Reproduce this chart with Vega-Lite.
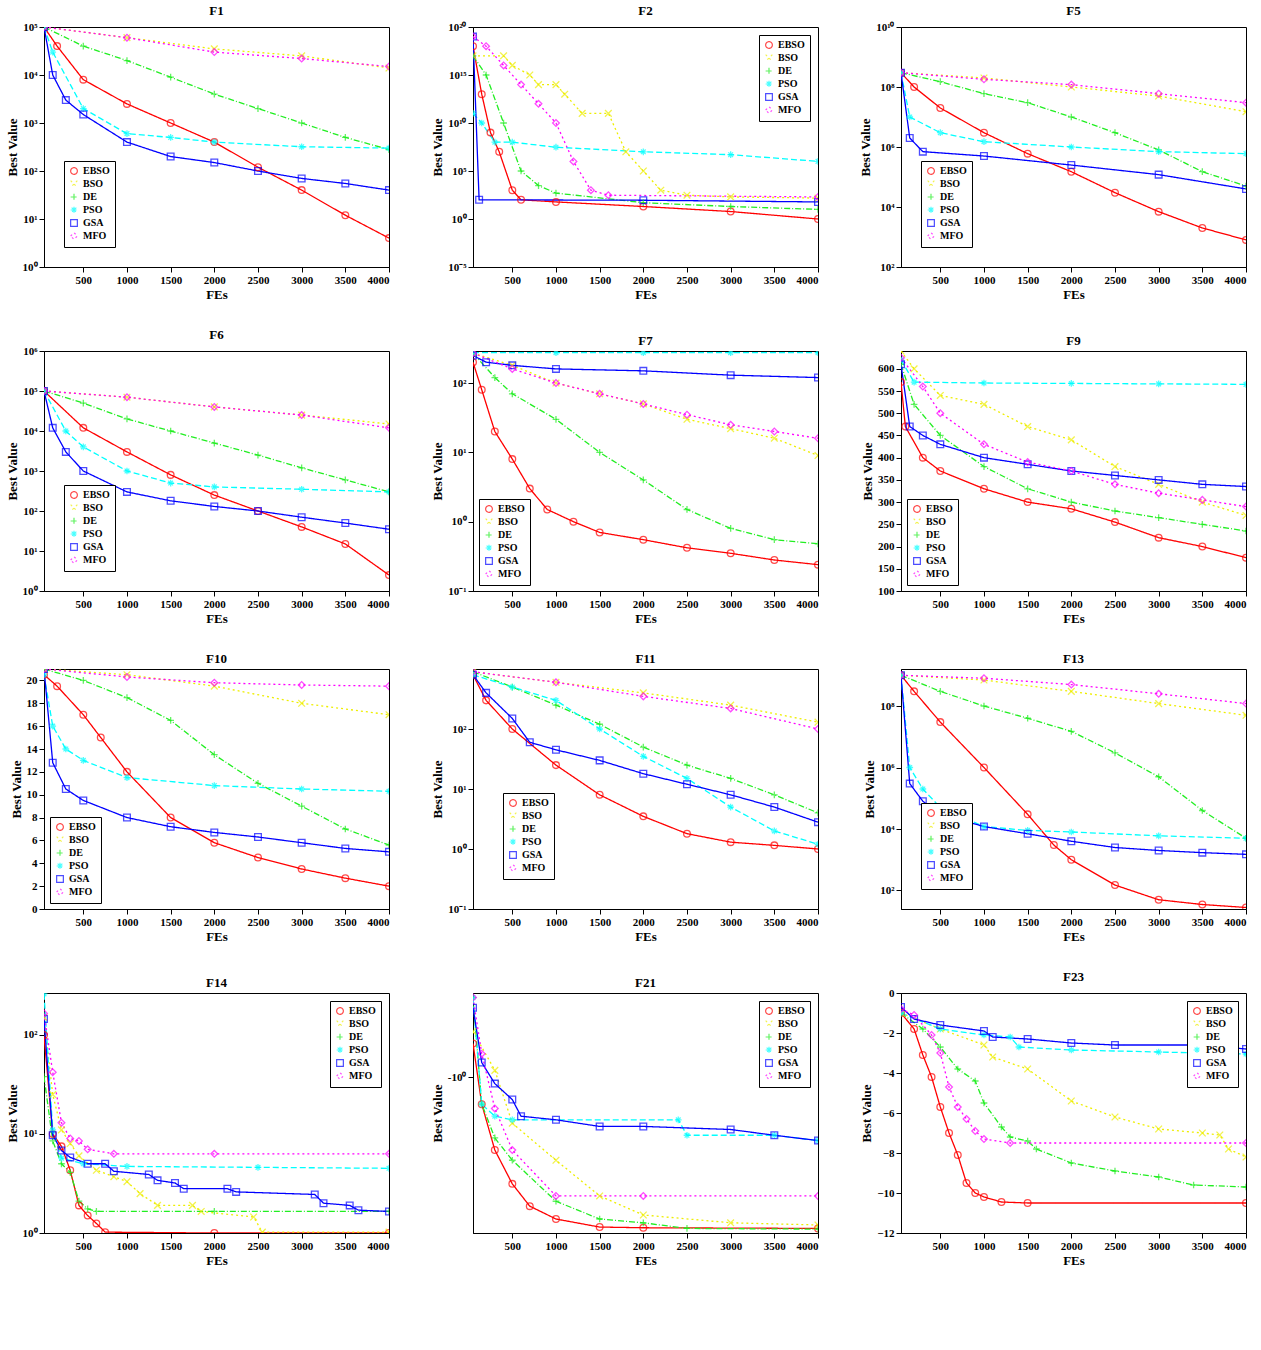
{
"$schema":"https://vega.github.io/schema/vega-lite/v6.json",
"background":"white",
"padding":{"left":5,"right":5,"top":4,"bottom":2},
"config":{"font":"Liberation Serif","view":{"stroke":"black","strokeWidth":1},
"title":{"font":"Liberation Serif","fontWeight":"bold","fontSize":13,"offset":3},
"axis":{"labelFont":"Liberation Serif","labelFontWeight":"bold","labelFontSize":11,"titleFont":"Liberation Serif","titleFontWeight":"bold","titleFontSize":13,"titlePadding":3,"grid":false,"domainColor":"black","tickColor":"black","labelColor":"black","titleColor":"black"},
"axisX":{"format":"d"},
"legend":{"labelFont":"Liberation Serif","labelFontWeight":"bold","labelFontSize":10,"fillColor":"white","strokeColor":"black","padding":5,"rowPadding":1,"symbolSize":45,"symbolStrokeWidth":1.2,"offset":6}},
"columns":3,"spacing":{"row":26,"column":40},
"resolve":{"scale":{"x":"independent","y":"independent","color":"independent","shape":"independent","strokeDash":"independent"},"legend":{"color":"independent","shape":"independent","strokeDash":"independent"}},
"data":{"values":[
{"p":"F1","s":"EBSO","x":50,"y":1e5},{"p":"F1","s":"EBSO","x":200,"y":4e4},{"p":"F1","s":"EBSO","x":500,"y":8e3},{"p":"F1","s":"EBSO","x":1000,"y":2.5e3},{"p":"F1","s":"EBSO","x":1500,"y":1e3},{"p":"F1","s":"EBSO","x":2000,"y":400},{"p":"F1","s":"EBSO","x":2500,"y":120},{"p":"F1","s":"EBSO","x":3000,"y":40},{"p":"F1","s":"EBSO","x":3500,"y":12},{"p":"F1","s":"EBSO","x":4000,"y":4},
{"p":"F1","s":"BSO","x":50,"y":1e5},{"p":"F1","s":"BSO","x":1000,"y":6e4},{"p":"F1","s":"BSO","x":2000,"y":3.5e4},{"p":"F1","s":"BSO","x":3000,"y":2.5e4},{"p":"F1","s":"BSO","x":4000,"y":1.4e4},
{"p":"F1","s":"DE","x":50,"y":1e5},{"p":"F1","s":"DE","x":500,"y":4e4},{"p":"F1","s":"DE","x":1000,"y":2e4},{"p":"F1","s":"DE","x":1500,"y":9e3},{"p":"F1","s":"DE","x":2000,"y":4e3},{"p":"F1","s":"DE","x":2500,"y":2e3},{"p":"F1","s":"DE","x":3000,"y":1e3},{"p":"F1","s":"DE","x":3500,"y":500},{"p":"F1","s":"DE","x":4000,"y":280},
{"p":"F1","s":"PSO","x":50,"y":1e5},{"p":"F1","s":"PSO","x":150,"y":3e4},{"p":"F1","s":"PSO","x":500,"y":2e3},{"p":"F1","s":"PSO","x":1000,"y":600},{"p":"F1","s":"PSO","x":1500,"y":500},{"p":"F1","s":"PSO","x":2000,"y":400},{"p":"F1","s":"PSO","x":3000,"y":320},{"p":"F1","s":"PSO","x":4000,"y":300},
{"p":"F1","s":"GSA","x":50,"y":1e5},{"p":"F1","s":"GSA","x":150,"y":1e4},{"p":"F1","s":"GSA","x":300,"y":3e3},{"p":"F1","s":"GSA","x":500,"y":1.5e3},{"p":"F1","s":"GSA","x":1000,"y":400},{"p":"F1","s":"GSA","x":1500,"y":200},{"p":"F1","s":"GSA","x":2000,"y":150},{"p":"F1","s":"GSA","x":2500,"y":100},{"p":"F1","s":"GSA","x":3000,"y":70},{"p":"F1","s":"GSA","x":3500,"y":55},{"p":"F1","s":"GSA","x":4000,"y":40},
{"p":"F1","s":"MFO","x":50,"y":1e5},{"p":"F1","s":"MFO","x":1000,"y":6e4},{"p":"F1","s":"MFO","x":2000,"y":3e4},{"p":"F1","s":"MFO","x":3000,"y":2.2e4},{"p":"F1","s":"MFO","x":4000,"y":1.5e4},

{"p":"F2","s":"EBSO","x":50,"y":1e18},{"p":"F2","s":"EBSO","x":150,"y":1e13},{"p":"F2","s":"EBSO","x":250,"y":1e9},{"p":"F2","s":"EBSO","x":350,"y":1e7},{"p":"F2","s":"EBSO","x":500,"y":1e3},{"p":"F2","s":"EBSO","x":600,"y":100},{"p":"F2","s":"EBSO","x":1000,"y":60},{"p":"F2","s":"EBSO","x":2000,"y":20},{"p":"F2","s":"EBSO","x":3000,"y":6},{"p":"F2","s":"EBSO","x":4000,"y":1},
{"p":"F2","s":"BSO","x":50,"y":1e17},{"p":"F2","s":"BSO","x":400,"y":1e17},{"p":"F2","s":"BSO","x":500,"y":1e16},{"p":"F2","s":"BSO","x":700,"y":1e15},{"p":"F2","s":"BSO","x":800,"y":1e14},{"p":"F2","s":"BSO","x":1000,"y":1e14},{"p":"F2","s":"BSO","x":1100,"y":1e13},{"p":"F2","s":"BSO","x":1300,"y":1e11},{"p":"F2","s":"BSO","x":1600,"y":1e11},{"p":"F2","s":"BSO","x":1800,"y":1e7},{"p":"F2","s":"BSO","x":2000,"y":1e5},{"p":"F2","s":"BSO","x":2200,"y":1e3},{"p":"F2","s":"BSO","x":2500,"y":300},{"p":"F2","s":"BSO","x":3000,"y":200},{"p":"F2","s":"BSO","x":4000,"y":150},
{"p":"F2","s":"DE","x":50,"y":1e17},{"p":"F2","s":"DE","x":200,"y":1e15},{"p":"F2","s":"DE","x":400,"y":1e10},{"p":"F2","s":"DE","x":600,"y":1e5},{"p":"F2","s":"DE","x":800,"y":3e3},{"p":"F2","s":"DE","x":1000,"y":500},{"p":"F2","s":"DE","x":2000,"y":50},{"p":"F2","s":"DE","x":3000,"y":20},{"p":"F2","s":"DE","x":4000,"y":10},
{"p":"F2","s":"PSO","x":50,"y":1e11},{"p":"F2","s":"PSO","x":150,"y":1e10},{"p":"F2","s":"PSO","x":300,"y":1e8},{"p":"F2","s":"PSO","x":500,"y":1e8},{"p":"F2","s":"PSO","x":1000,"y":3e7},{"p":"F2","s":"PSO","x":2000,"y":1e7},{"p":"F2","s":"PSO","x":3000,"y":5e6},{"p":"F2","s":"PSO","x":4000,"y":1e6},
{"p":"F2","s":"GSA","x":50,"y":1e19},{"p":"F2","s":"GSA","x":120,"y":100},{"p":"F2","s":"GSA","x":2000,"y":90},{"p":"F2","s":"GSA","x":4000,"y":60},
{"p":"F2","s":"MFO","x":50,"y":1e19},{"p":"F2","s":"MFO","x":200,"y":1e18},{"p":"F2","s":"MFO","x":400,"y":1e16},{"p":"F2","s":"MFO","x":600,"y":1e14},{"p":"F2","s":"MFO","x":800,"y":1e12},{"p":"F2","s":"MFO","x":1000,"y":1e10},{"p":"F2","s":"MFO","x":1200,"y":1e6},{"p":"F2","s":"MFO","x":1400,"y":1e3},{"p":"F2","s":"MFO","x":1600,"y":300},{"p":"F2","s":"MFO","x":4000,"y":200},

{"p":"F5","s":"EBSO","x":50,"y":3e8},{"p":"F5","s":"EBSO","x":200,"y":1e8},{"p":"F5","s":"EBSO","x":500,"y":2e7},{"p":"F5","s":"EBSO","x":1000,"y":3e6},{"p":"F5","s":"EBSO","x":1500,"y":6e5},{"p":"F5","s":"EBSO","x":2000,"y":1.5e5},{"p":"F5","s":"EBSO","x":2500,"y":3e4},{"p":"F5","s":"EBSO","x":3000,"y":7e3},{"p":"F5","s":"EBSO","x":3500,"y":2e3},{"p":"F5","s":"EBSO","x":4000,"y":800},
{"p":"F5","s":"BSO","x":50,"y":3e8},{"p":"F5","s":"BSO","x":1000,"y":2e8},{"p":"F5","s":"BSO","x":2000,"y":1e8},{"p":"F5","s":"BSO","x":3000,"y":5e7},{"p":"F5","s":"BSO","x":4000,"y":1.5e7},
{"p":"F5","s":"DE","x":50,"y":3e8},{"p":"F5","s":"DE","x":500,"y":1.5e8},{"p":"F5","s":"DE","x":1000,"y":6e7},{"p":"F5","s":"DE","x":1500,"y":3e7},{"p":"F5","s":"DE","x":2000,"y":1e7},{"p":"F5","s":"DE","x":2500,"y":3e6},{"p":"F5","s":"DE","x":3000,"y":8e5},{"p":"F5","s":"DE","x":3500,"y":1.5e5},{"p":"F5","s":"DE","x":4000,"y":5e4},
{"p":"F5","s":"PSO","x":50,"y":3e8},{"p":"F5","s":"PSO","x":150,"y":1e7},{"p":"F5","s":"PSO","x":500,"y":3e6},{"p":"F5","s":"PSO","x":1000,"y":1.5e6},{"p":"F5","s":"PSO","x":2000,"y":1e6},{"p":"F5","s":"PSO","x":3000,"y":7e5},{"p":"F5","s":"PSO","x":4000,"y":6e5},
{"p":"F5","s":"GSA","x":50,"y":3e8},{"p":"F5","s":"GSA","x":150,"y":2e6},{"p":"F5","s":"GSA","x":300,"y":7e5},{"p":"F5","s":"GSA","x":1000,"y":5e5},{"p":"F5","s":"GSA","x":2000,"y":2.5e5},{"p":"F5","s":"GSA","x":3000,"y":1.2e5},{"p":"F5","s":"GSA","x":4000,"y":4e4},
{"p":"F5","s":"MFO","x":50,"y":3e8},{"p":"F5","s":"MFO","x":1000,"y":1.8e8},{"p":"F5","s":"MFO","x":2000,"y":1.2e8},{"p":"F5","s":"MFO","x":3000,"y":6e7},{"p":"F5","s":"MFO","x":4000,"y":3e7},

{"p":"F6","s":"EBSO","x":50,"y":1e5},{"p":"F6","s":"EBSO","x":500,"y":1.2e4},{"p":"F6","s":"EBSO","x":1000,"y":3e3},{"p":"F6","s":"EBSO","x":1500,"y":800},{"p":"F6","s":"EBSO","x":2000,"y":250},{"p":"F6","s":"EBSO","x":2500,"y":100},{"p":"F6","s":"EBSO","x":3000,"y":40},{"p":"F6","s":"EBSO","x":3500,"y":15},{"p":"F6","s":"EBSO","x":4000,"y":2.5},
{"p":"F6","s":"BSO","x":50,"y":1e5},{"p":"F6","s":"BSO","x":1000,"y":7e4},{"p":"F6","s":"BSO","x":2000,"y":4e4},{"p":"F6","s":"BSO","x":3000,"y":2.5e4},{"p":"F6","s":"BSO","x":4000,"y":1.5e4},
{"p":"F6","s":"DE","x":50,"y":1e5},{"p":"F6","s":"DE","x":500,"y":5e4},{"p":"F6","s":"DE","x":1000,"y":2e4},{"p":"F6","s":"DE","x":1500,"y":1e4},{"p":"F6","s":"DE","x":2000,"y":5e3},{"p":"F6","s":"DE","x":2500,"y":2.5e3},{"p":"F6","s":"DE","x":3000,"y":1.2e3},{"p":"F6","s":"DE","x":3500,"y":600},{"p":"F6","s":"DE","x":4000,"y":300},
{"p":"F6","s":"PSO","x":50,"y":1e5},{"p":"F6","s":"PSO","x":300,"y":1e4},{"p":"F6","s":"PSO","x":500,"y":4e3},{"p":"F6","s":"PSO","x":1000,"y":1e3},{"p":"F6","s":"PSO","x":1500,"y":500},{"p":"F6","s":"PSO","x":2000,"y":400},{"p":"F6","s":"PSO","x":3000,"y":350},{"p":"F6","s":"PSO","x":4000,"y":300},
{"p":"F6","s":"GSA","x":50,"y":1e5},{"p":"F6","s":"GSA","x":150,"y":1.2e4},{"p":"F6","s":"GSA","x":300,"y":3e3},{"p":"F6","s":"GSA","x":500,"y":1e3},{"p":"F6","s":"GSA","x":1000,"y":300},{"p":"F6","s":"GSA","x":1500,"y":180},{"p":"F6","s":"GSA","x":2000,"y":130},{"p":"F6","s":"GSA","x":2500,"y":100},{"p":"F6","s":"GSA","x":3000,"y":70},{"p":"F6","s":"GSA","x":3500,"y":50},{"p":"F6","s":"GSA","x":4000,"y":35},
{"p":"F6","s":"MFO","x":50,"y":1e5},{"p":"F6","s":"MFO","x":1000,"y":7e4},{"p":"F6","s":"MFO","x":2000,"y":4e4},{"p":"F6","s":"MFO","x":3000,"y":2.5e4},{"p":"F6","s":"MFO","x":4000,"y":1.2e4},

{"p":"F7","s":"EBSO","x":50,"y":200},{"p":"F7","s":"EBSO","x":150,"y":80},{"p":"F7","s":"EBSO","x":300,"y":20},{"p":"F7","s":"EBSO","x":500,"y":8},{"p":"F7","s":"EBSO","x":700,"y":3},{"p":"F7","s":"EBSO","x":900,"y":1.5},{"p":"F7","s":"EBSO","x":1200,"y":1},{"p":"F7","s":"EBSO","x":1500,"y":0.7},{"p":"F7","s":"EBSO","x":2000,"y":0.55},{"p":"F7","s":"EBSO","x":2500,"y":0.42},{"p":"F7","s":"EBSO","x":3000,"y":0.35},{"p":"F7","s":"EBSO","x":3500,"y":0.28},{"p":"F7","s":"EBSO","x":4000,"y":0.24},
{"p":"F7","s":"BSO","x":50,"y":270},{"p":"F7","s":"BSO","x":500,"y":180},{"p":"F7","s":"BSO","x":1000,"y":100},{"p":"F7","s":"BSO","x":1500,"y":70},{"p":"F7","s":"BSO","x":2000,"y":50},{"p":"F7","s":"BSO","x":2500,"y":30},{"p":"F7","s":"BSO","x":3000,"y":22},{"p":"F7","s":"BSO","x":3500,"y":16},{"p":"F7","s":"BSO","x":4000,"y":9},
{"p":"F7","s":"DE","x":50,"y":270},{"p":"F7","s":"DE","x":300,"y":120},{"p":"F7","s":"DE","x":500,"y":70},{"p":"F7","s":"DE","x":1000,"y":30},{"p":"F7","s":"DE","x":1500,"y":10},{"p":"F7","s":"DE","x":2000,"y":4},{"p":"F7","s":"DE","x":2500,"y":1.5},{"p":"F7","s":"DE","x":3000,"y":0.8},{"p":"F7","s":"DE","x":3500,"y":0.55},{"p":"F7","s":"DE","x":4000,"y":0.48},
{"p":"F7","s":"PSO","x":50,"y":275},{"p":"F7","s":"PSO","x":1000,"y":275},{"p":"F7","s":"PSO","x":2000,"y":275},{"p":"F7","s":"PSO","x":3000,"y":275},{"p":"F7","s":"PSO","x":4000,"y":275},
{"p":"F7","s":"GSA","x":50,"y":250},{"p":"F7","s":"GSA","x":200,"y":200},{"p":"F7","s":"GSA","x":500,"y":180},{"p":"F7","s":"GSA","x":1000,"y":160},{"p":"F7","s":"GSA","x":2000,"y":150},{"p":"F7","s":"GSA","x":3000,"y":130},{"p":"F7","s":"GSA","x":4000,"y":120},
{"p":"F7","s":"MFO","x":50,"y":270},{"p":"F7","s":"MFO","x":500,"y":160},{"p":"F7","s":"MFO","x":1000,"y":100},{"p":"F7","s":"MFO","x":1500,"y":70},{"p":"F7","s":"MFO","x":2000,"y":50},{"p":"F7","s":"MFO","x":2500,"y":35},{"p":"F7","s":"MFO","x":3000,"y":25},{"p":"F7","s":"MFO","x":3500,"y":20},{"p":"F7","s":"MFO","x":4000,"y":16},

{"p":"F9","s":"EBSO","x":50,"y":570},{"p":"F9","s":"EBSO","x":100,"y":470},{"p":"F9","s":"EBSO","x":300,"y":400},{"p":"F9","s":"EBSO","x":500,"y":370},{"p":"F9","s":"EBSO","x":1000,"y":330},{"p":"F9","s":"EBSO","x":1500,"y":300},{"p":"F9","s":"EBSO","x":2000,"y":285},{"p":"F9","s":"EBSO","x":2500,"y":255},{"p":"F9","s":"EBSO","x":3000,"y":220},{"p":"F9","s":"EBSO","x":3500,"y":200},{"p":"F9","s":"EBSO","x":4000,"y":175},
{"p":"F9","s":"BSO","x":50,"y":640},{"p":"F9","s":"BSO","x":200,"y":600},{"p":"F9","s":"BSO","x":500,"y":540},{"p":"F9","s":"BSO","x":1000,"y":520},{"p":"F9","s":"BSO","x":1500,"y":470},{"p":"F9","s":"BSO","x":2000,"y":440},{"p":"F9","s":"BSO","x":2500,"y":380},{"p":"F9","s":"BSO","x":3000,"y":340},{"p":"F9","s":"BSO","x":3500,"y":300},{"p":"F9","s":"BSO","x":4000,"y":270},
{"p":"F9","s":"DE","x":50,"y":610},{"p":"F9","s":"DE","x":200,"y":520},{"p":"F9","s":"DE","x":500,"y":450},{"p":"F9","s":"DE","x":1000,"y":380},{"p":"F9","s":"DE","x":1500,"y":330},{"p":"F9","s":"DE","x":2000,"y":300},{"p":"F9","s":"DE","x":2500,"y":280},{"p":"F9","s":"DE","x":3000,"y":265},{"p":"F9","s":"DE","x":3500,"y":250},{"p":"F9","s":"DE","x":4000,"y":235},
{"p":"F9","s":"PSO","x":50,"y":620},{"p":"F9","s":"PSO","x":200,"y":570},{"p":"F9","s":"PSO","x":1000,"y":568},{"p":"F9","s":"PSO","x":2000,"y":567},{"p":"F9","s":"PSO","x":3000,"y":566},{"p":"F9","s":"PSO","x":4000,"y":565},
{"p":"F9","s":"GSA","x":50,"y":610},{"p":"F9","s":"GSA","x":150,"y":470},{"p":"F9","s":"GSA","x":300,"y":450},{"p":"F9","s":"GSA","x":500,"y":430},{"p":"F9","s":"GSA","x":1000,"y":400},{"p":"F9","s":"GSA","x":1500,"y":385},{"p":"F9","s":"GSA","x":2000,"y":370},{"p":"F9","s":"GSA","x":2500,"y":360},{"p":"F9","s":"GSA","x":3000,"y":350},{"p":"F9","s":"GSA","x":3500,"y":340},{"p":"F9","s":"GSA","x":4000,"y":335},
{"p":"F9","s":"MFO","x":50,"y":625},{"p":"F9","s":"MFO","x":300,"y":560},{"p":"F9","s":"MFO","x":500,"y":500},{"p":"F9","s":"MFO","x":1000,"y":430},{"p":"F9","s":"MFO","x":1500,"y":390},{"p":"F9","s":"MFO","x":2000,"y":370},{"p":"F9","s":"MFO","x":2500,"y":340},{"p":"F9","s":"MFO","x":3000,"y":320},{"p":"F9","s":"MFO","x":3500,"y":305},{"p":"F9","s":"MFO","x":4000,"y":290},

{"p":"F10","s":"EBSO","x":50,"y":20.5},{"p":"F10","s":"EBSO","x":200,"y":19.5},{"p":"F10","s":"EBSO","x":500,"y":17},{"p":"F10","s":"EBSO","x":700,"y":15},{"p":"F10","s":"EBSO","x":1000,"y":12},{"p":"F10","s":"EBSO","x":1500,"y":8},{"p":"F10","s":"EBSO","x":2000,"y":5.8},{"p":"F10","s":"EBSO","x":2500,"y":4.5},{"p":"F10","s":"EBSO","x":3000,"y":3.5},{"p":"F10","s":"EBSO","x":3500,"y":2.7},{"p":"F10","s":"EBSO","x":4000,"y":2},
{"p":"F10","s":"BSO","x":50,"y":21},{"p":"F10","s":"BSO","x":1000,"y":20.5},{"p":"F10","s":"BSO","x":2000,"y":19.5},{"p":"F10","s":"BSO","x":3000,"y":18},{"p":"F10","s":"BSO","x":4000,"y":17},
{"p":"F10","s":"DE","x":50,"y":21},{"p":"F10","s":"DE","x":500,"y":20},{"p":"F10","s":"DE","x":1000,"y":18.5},{"p":"F10","s":"DE","x":1500,"y":16.5},{"p":"F10","s":"DE","x":2000,"y":13.5},{"p":"F10","s":"DE","x":2500,"y":11},{"p":"F10","s":"DE","x":3000,"y":9},{"p":"F10","s":"DE","x":3500,"y":7},{"p":"F10","s":"DE","x":4000,"y":5.6},
{"p":"F10","s":"PSO","x":50,"y":20.5},{"p":"F10","s":"PSO","x":150,"y":16},{"p":"F10","s":"PSO","x":300,"y":14},{"p":"F10","s":"PSO","x":500,"y":13},{"p":"F10","s":"PSO","x":1000,"y":11.5},{"p":"F10","s":"PSO","x":2000,"y":10.8},{"p":"F10","s":"PSO","x":3000,"y":10.5},{"p":"F10","s":"PSO","x":4000,"y":10.3},
{"p":"F10","s":"GSA","x":50,"y":21},{"p":"F10","s":"GSA","x":150,"y":12.8},{"p":"F10","s":"GSA","x":300,"y":10.5},{"p":"F10","s":"GSA","x":500,"y":9.5},{"p":"F10","s":"GSA","x":1000,"y":8},{"p":"F10","s":"GSA","x":1500,"y":7.2},{"p":"F10","s":"GSA","x":2000,"y":6.7},{"p":"F10","s":"GSA","x":2500,"y":6.3},{"p":"F10","s":"GSA","x":3000,"y":5.8},{"p":"F10","s":"GSA","x":3500,"y":5.3},{"p":"F10","s":"GSA","x":4000,"y":5},
{"p":"F10","s":"MFO","x":50,"y":21},{"p":"F10","s":"MFO","x":1000,"y":20.3},{"p":"F10","s":"MFO","x":2000,"y":19.8},{"p":"F10","s":"MFO","x":3000,"y":19.6},{"p":"F10","s":"MFO","x":4000,"y":19.5},

{"p":"F11","s":"EBSO","x":50,"y":800},{"p":"F11","s":"EBSO","x":200,"y":300},{"p":"F11","s":"EBSO","x":500,"y":100},{"p":"F11","s":"EBSO","x":1000,"y":25},{"p":"F11","s":"EBSO","x":1500,"y":8},{"p":"F11","s":"EBSO","x":2000,"y":3.5},{"p":"F11","s":"EBSO","x":2500,"y":1.8},{"p":"F11","s":"EBSO","x":3000,"y":1.3},{"p":"F11","s":"EBSO","x":3500,"y":1.15},{"p":"F11","s":"EBSO","x":4000,"y":1},
{"p":"F11","s":"BSO","x":50,"y":900},{"p":"F11","s":"BSO","x":1000,"y":600},{"p":"F11","s":"BSO","x":2000,"y":400},{"p":"F11","s":"BSO","x":3000,"y":250},{"p":"F11","s":"BSO","x":4000,"y":130},
{"p":"F11","s":"DE","x":50,"y":900},{"p":"F11","s":"DE","x":500,"y":500},{"p":"F11","s":"DE","x":1000,"y":250},{"p":"F11","s":"DE","x":1500,"y":120},{"p":"F11","s":"DE","x":2000,"y":50},{"p":"F11","s":"DE","x":2500,"y":25},{"p":"F11","s":"DE","x":3000,"y":15},{"p":"F11","s":"DE","x":3500,"y":8},{"p":"F11","s":"DE","x":4000,"y":4},
{"p":"F11","s":"PSO","x":50,"y":800},{"p":"F11","s":"PSO","x":500,"y":500},{"p":"F11","s":"PSO","x":1000,"y":300},{"p":"F11","s":"PSO","x":1500,"y":100},{"p":"F11","s":"PSO","x":2000,"y":35},{"p":"F11","s":"PSO","x":2500,"y":15},{"p":"F11","s":"PSO","x":3000,"y":5},{"p":"F11","s":"PSO","x":3500,"y":2},{"p":"F11","s":"PSO","x":4000,"y":1.2},
{"p":"F11","s":"GSA","x":50,"y":800},{"p":"F11","s":"GSA","x":200,"y":400},{"p":"F11","s":"GSA","x":500,"y":150},{"p":"F11","s":"GSA","x":700,"y":60},{"p":"F11","s":"GSA","x":1000,"y":45},{"p":"F11","s":"GSA","x":1500,"y":30},{"p":"F11","s":"GSA","x":2000,"y":18},{"p":"F11","s":"GSA","x":2500,"y":12},{"p":"F11","s":"GSA","x":3000,"y":8},{"p":"F11","s":"GSA","x":3500,"y":5},{"p":"F11","s":"GSA","x":4000,"y":2.8},
{"p":"F11","s":"MFO","x":50,"y":900},{"p":"F11","s":"MFO","x":1000,"y":600},{"p":"F11","s":"MFO","x":2000,"y":350},{"p":"F11","s":"MFO","x":3000,"y":220},{"p":"F11","s":"MFO","x":4000,"y":100},

{"p":"F13","s":"EBSO","x":50,"y":1e9},{"p":"F13","s":"EBSO","x":200,"y":3e8},{"p":"F13","s":"EBSO","x":500,"y":3e7},{"p":"F13","s":"EBSO","x":1000,"y":1e6},{"p":"F13","s":"EBSO","x":1500,"y":3e4},{"p":"F13","s":"EBSO","x":1800,"y":3e3},{"p":"F13","s":"EBSO","x":2000,"y":1e3},{"p":"F13","s":"EBSO","x":2500,"y":150},{"p":"F13","s":"EBSO","x":3000,"y":50},{"p":"F13","s":"EBSO","x":3500,"y":35},{"p":"F13","s":"EBSO","x":4000,"y":28},
{"p":"F13","s":"BSO","x":50,"y":1e9},{"p":"F13","s":"BSO","x":1000,"y":7e8},{"p":"F13","s":"BSO","x":2000,"y":3e8},{"p":"F13","s":"BSO","x":3000,"y":1.2e8},{"p":"F13","s":"BSO","x":4000,"y":5e7},
{"p":"F13","s":"DE","x":50,"y":1e9},{"p":"F13","s":"DE","x":500,"y":3e8},{"p":"F13","s":"DE","x":1000,"y":1e8},{"p":"F13","s":"DE","x":1500,"y":4e7},{"p":"F13","s":"DE","x":2000,"y":1.5e7},{"p":"F13","s":"DE","x":2500,"y":3e6},{"p":"F13","s":"DE","x":3000,"y":5e5},{"p":"F13","s":"DE","x":3500,"y":4e4},{"p":"F13","s":"DE","x":4000,"y":5e3},
{"p":"F13","s":"PSO","x":50,"y":1e9},{"p":"F13","s":"PSO","x":150,"y":1e6},{"p":"F13","s":"PSO","x":300,"y":2e5},{"p":"F13","s":"PSO","x":500,"y":5e4},{"p":"F13","s":"PSO","x":1000,"y":1.2e4},{"p":"F13","s":"PSO","x":1500,"y":9e3},{"p":"F13","s":"PSO","x":2000,"y":8e3},{"p":"F13","s":"PSO","x":3000,"y":6e3},{"p":"F13","s":"PSO","x":4000,"y":5e3},
{"p":"F13","s":"GSA","x":50,"y":1e9},{"p":"F13","s":"GSA","x":150,"y":3e5},{"p":"F13","s":"GSA","x":300,"y":8e4},{"p":"F13","s":"GSA","x":500,"y":3e4},{"p":"F13","s":"GSA","x":1000,"y":1.2e4},{"p":"F13","s":"GSA","x":1500,"y":7e3},{"p":"F13","s":"GSA","x":2000,"y":4e3},{"p":"F13","s":"GSA","x":2500,"y":2.5e3},{"p":"F13","s":"GSA","x":3000,"y":2e3},{"p":"F13","s":"GSA","x":3500,"y":1.7e3},{"p":"F13","s":"GSA","x":4000,"y":1.5e3},
{"p":"F13","s":"MFO","x":50,"y":1e9},{"p":"F13","s":"MFO","x":1000,"y":8e8},{"p":"F13","s":"MFO","x":2000,"y":5e8},{"p":"F13","s":"MFO","x":3000,"y":2.5e8},{"p":"F13","s":"MFO","x":4000,"y":1.2e8},

{"p":"F14","s":"EBSO","x":50,"y":100},{"p":"F14","s":"EBSO","x":150,"y":10},{"p":"F14","s":"EBSO","x":250,"y":7.5},{"p":"F14","s":"EBSO","x":350,"y":4.3},{"p":"F14","s":"EBSO","x":450,"y":1.9},{"p":"F14","s":"EBSO","x":550,"y":1.5},{"p":"F14","s":"EBSO","x":650,"y":1.25},{"p":"F14","s":"EBSO","x":750,"y":1.02},{"p":"F14","s":"EBSO","x":2000,"y":1},{"p":"F14","s":"EBSO","x":4000,"y":1},
{"p":"F14","s":"BSO","x":50,"y":150},{"p":"F14","s":"BSO","x":150,"y":25},{"p":"F14","s":"BSO","x":250,"y":11},{"p":"F14","s":"BSO","x":350,"y":8},{"p":"F14","s":"BSO","x":450,"y":6},{"p":"F14","s":"BSO","x":650,"y":4.3},{"p":"F14","s":"BSO","x":850,"y":3.7},{"p":"F14","s":"BSO","x":1000,"y":3.3},{"p":"F14","s":"BSO","x":1150,"y":2.5},{"p":"F14","s":"BSO","x":1350,"y":1.9},{"p":"F14","s":"BSO","x":1750,"y":1.9},{"p":"F14","s":"BSO","x":1850,"y":1.65},{"p":"F14","s":"BSO","x":2450,"y":1.45},{"p":"F14","s":"BSO","x":2550,"y":1.02},{"p":"F14","s":"BSO","x":4000,"y":1.02},
{"p":"F14","s":"DE","x":50,"y":38},{"p":"F14","s":"DE","x":150,"y":8.5},{"p":"F14","s":"DE","x":250,"y":5},{"p":"F14","s":"DE","x":350,"y":4.1},{"p":"F14","s":"DE","x":450,"y":2.1},{"p":"F14","s":"DE","x":550,"y":1.75},{"p":"F14","s":"DE","x":650,"y":1.65},{"p":"F14","s":"DE","x":2000,"y":1.65},{"p":"F14","s":"DE","x":4000,"y":1.65},
{"p":"F14","s":"PSO","x":50,"y":260},{"p":"F14","s":"PSO","x":150,"y":11},{"p":"F14","s":"PSO","x":250,"y":5.7},{"p":"F14","s":"PSO","x":500,"y":5},{"p":"F14","s":"PSO","x":1000,"y":4.7},{"p":"F14","s":"PSO","x":2500,"y":4.6},{"p":"F14","s":"PSO","x":4000,"y":4.5},
{"p":"F14","s":"GSA","x":50,"y":145},{"p":"F14","s":"GSA","x":150,"y":9.7},{"p":"F14","s":"GSA","x":250,"y":6.8},{"p":"F14","s":"GSA","x":350,"y":5.8},{"p":"F14","s":"GSA","x":550,"y":5},{"p":"F14","s":"GSA","x":750,"y":5},{"p":"F14","s":"GSA","x":850,"y":4.2},{"p":"F14","s":"GSA","x":1250,"y":3.9},{"p":"F14","s":"GSA","x":1350,"y":3.4},{"p":"F14","s":"GSA","x":1550,"y":3.2},{"p":"F14","s":"GSA","x":1650,"y":2.8},{"p":"F14","s":"GSA","x":2150,"y":2.8},{"p":"F14","s":"GSA","x":2250,"y":2.6},{"p":"F14","s":"GSA","x":3150,"y":2.45},{"p":"F14","s":"GSA","x":3250,"y":2},{"p":"F14","s":"GSA","x":3550,"y":1.9},{"p":"F14","s":"GSA","x":3650,"y":1.7},{"p":"F14","s":"GSA","x":4000,"y":1.65},
{"p":"F14","s":"MFO","x":50,"y":165},{"p":"F14","s":"MFO","x":150,"y":42},{"p":"F14","s":"MFO","x":250,"y":13},{"p":"F14","s":"MFO","x":350,"y":9},{"p":"F14","s":"MFO","x":450,"y":8.5},{"p":"F14","s":"MFO","x":550,"y":7},{"p":"F14","s":"MFO","x":850,"y":6.3},{"p":"F14","s":"MFO","x":2000,"y":6.3},{"p":"F14","s":"MFO","x":4000,"y":6.3},

{"p":"F21","s":"EBSO","x":50,"y":0.6},{"p":"F21","s":"EBSO","x":150,"y":1.5},{"p":"F21","s":"EBSO","x":300,"y":3},{"p":"F21","s":"EBSO","x":500,"y":5},{"p":"F21","s":"EBSO","x":700,"y":7},{"p":"F21","s":"EBSO","x":1000,"y":8.5},{"p":"F21","s":"EBSO","x":1500,"y":9.6},{"p":"F21","s":"EBSO","x":2000,"y":9.7},{"p":"F21","s":"EBSO","x":4000,"y":9.8},
{"p":"F21","s":"BSO","x":50,"y":0.5},{"p":"F21","s":"BSO","x":300,"y":0.9},{"p":"F21","s":"BSO","x":500,"y":2},{"p":"F21","s":"BSO","x":1000,"y":3.5},{"p":"F21","s":"BSO","x":1500,"y":6},{"p":"F21","s":"BSO","x":2000,"y":8},{"p":"F21","s":"BSO","x":3000,"y":9},{"p":"F21","s":"BSO","x":4000,"y":9.3},
{"p":"F21","s":"DE","x":50,"y":0.3},{"p":"F21","s":"DE","x":150,"y":1.5},{"p":"F21","s":"DE","x":300,"y":2.5},{"p":"F21","s":"DE","x":500,"y":3.5},{"p":"F21","s":"DE","x":1000,"y":6.5},{"p":"F21","s":"DE","x":1500,"y":8.5},{"p":"F21","s":"DE","x":2000,"y":9},{"p":"F21","s":"DE","x":2500,"y":9.8},{"p":"F21","s":"DE","x":4000,"y":9.9},
{"p":"F21","s":"PSO","x":50,"y":0.3},{"p":"F21","s":"PSO","x":150,"y":1.5},{"p":"F21","s":"PSO","x":300,"y":1.8},{"p":"F21","s":"PSO","x":500,"y":1.9},{"p":"F21","s":"PSO","x":2400,"y":1.9},{"p":"F21","s":"PSO","x":2500,"y":2.4},{"p":"F21","s":"PSO","x":3500,"y":2.4},{"p":"F21","s":"PSO","x":4000,"y":2.6},
{"p":"F21","s":"GSA","x":50,"y":0.35},{"p":"F21","s":"GSA","x":150,"y":0.8},{"p":"F21","s":"GSA","x":300,"y":1.1},{"p":"F21","s":"GSA","x":500,"y":1.4},{"p":"F21","s":"GSA","x":600,"y":1.8},{"p":"F21","s":"GSA","x":1000,"y":1.9},{"p":"F21","s":"GSA","x":1500,"y":2.1},{"p":"F21","s":"GSA","x":2000,"y":2.1},{"p":"F21","s":"GSA","x":3000,"y":2.2},{"p":"F21","s":"GSA","x":3500,"y":2.4},{"p":"F21","s":"GSA","x":4000,"y":2.6},
{"p":"F21","s":"MFO","x":50,"y":0.3},{"p":"F21","s":"MFO","x":150,"y":0.7},{"p":"F21","s":"MFO","x":300,"y":1.6},{"p":"F21","s":"MFO","x":500,"y":3},{"p":"F21","s":"MFO","x":1000,"y":6},{"p":"F21","s":"MFO","x":2000,"y":6},{"p":"F21","s":"MFO","x":4000,"y":6},

{"p":"F23","s":"EBSO","x":50,"y":-1},{"p":"F23","s":"EBSO","x":200,"y":-1.8},{"p":"F23","s":"EBSO","x":300,"y":-3.1},{"p":"F23","s":"EBSO","x":400,"y":-4.2},{"p":"F23","s":"EBSO","x":500,"y":-5.7},{"p":"F23","s":"EBSO","x":600,"y":-7},{"p":"F23","s":"EBSO","x":700,"y":-8.1},{"p":"F23","s":"EBSO","x":800,"y":-9.5},{"p":"F23","s":"EBSO","x":900,"y":-10},{"p":"F23","s":"EBSO","x":1000,"y":-10.2},{"p":"F23","s":"EBSO","x":1200,"y":-10.45},{"p":"F23","s":"EBSO","x":1500,"y":-10.5},{"p":"F23","s":"EBSO","x":4000,"y":-10.5},
{"p":"F23","s":"BSO","x":50,"y":-1},{"p":"F23","s":"BSO","x":500,"y":-1.8},{"p":"F23","s":"BSO","x":1000,"y":-2.6},{"p":"F23","s":"BSO","x":1100,"y":-3.2},{"p":"F23","s":"BSO","x":1500,"y":-3.8},{"p":"F23","s":"BSO","x":2000,"y":-5.4},{"p":"F23","s":"BSO","x":2500,"y":-6.2},{"p":"F23","s":"BSO","x":3000,"y":-6.8},{"p":"F23","s":"BSO","x":3500,"y":-7},{"p":"F23","s":"BSO","x":3700,"y":-7.1},{"p":"F23","s":"BSO","x":3800,"y":-7.8},{"p":"F23","s":"BSO","x":4000,"y":-8.2},
{"p":"F23","s":"DE","x":50,"y":-1},{"p":"F23","s":"DE","x":300,"y":-1.8},{"p":"F23","s":"DE","x":500,"y":-2.7},{"p":"F23","s":"DE","x":700,"y":-3.8},{"p":"F23","s":"DE","x":900,"y":-4.4},{"p":"F23","s":"DE","x":1000,"y":-5.5},{"p":"F23","s":"DE","x":1200,"y":-6.7},{"p":"F23","s":"DE","x":1300,"y":-7.2},{"p":"F23","s":"DE","x":1500,"y":-7.4},{"p":"F23","s":"DE","x":1600,"y":-7.8},{"p":"F23","s":"DE","x":2000,"y":-8.5},{"p":"F23","s":"DE","x":2500,"y":-8.9},{"p":"F23","s":"DE","x":3000,"y":-9.2},{"p":"F23","s":"DE","x":3400,"y":-9.6},{"p":"F23","s":"DE","x":4000,"y":-9.7},
{"p":"F23","s":"PSO","x":50,"y":-1},{"p":"F23","s":"PSO","x":500,"y":-1.8},{"p":"F23","s":"PSO","x":1000,"y":-2.1},{"p":"F23","s":"PSO","x":1300,"y":-2.2},{"p":"F23","s":"PSO","x":1400,"y":-2.7},{"p":"F23","s":"PSO","x":2000,"y":-2.85},{"p":"F23","s":"PSO","x":3000,"y":-2.95},{"p":"F23","s":"PSO","x":4000,"y":-3.05},
{"p":"F23","s":"GSA","x":50,"y":-0.7},{"p":"F23","s":"GSA","x":200,"y":-1.3},{"p":"F23","s":"GSA","x":500,"y":-1.6},{"p":"F23","s":"GSA","x":1000,"y":-1.9},{"p":"F23","s":"GSA","x":1100,"y":-2.2},{"p":"F23","s":"GSA","x":1500,"y":-2.3},{"p":"F23","s":"GSA","x":2000,"y":-2.5},{"p":"F23","s":"GSA","x":2500,"y":-2.6},{"p":"F23","s":"GSA","x":3500,"y":-2.6},{"p":"F23","s":"GSA","x":4000,"y":-2.8},
{"p":"F23","s":"MFO","x":50,"y":-0.8},{"p":"F23","s":"MFO","x":200,"y":-1.1},{"p":"F23","s":"MFO","x":400,"y":-2.1},{"p":"F23","s":"MFO","x":500,"y":-3},{"p":"F23","s":"MFO","x":600,"y":-4.7},{"p":"F23","s":"MFO","x":700,"y":-5.7},{"p":"F23","s":"MFO","x":800,"y":-6.3},{"p":"F23","s":"MFO","x":900,"y":-6.9},{"p":"F23","s":"MFO","x":1000,"y":-7.3},{"p":"F23","s":"MFO","x":1300,"y":-7.5},{"p":"F23","s":"MFO","x":4000,"y":-7.5}
]},
"concat":[
{"title":"F1","width":345,"height":240,"transform":[{"filter":"datum.p=='F1'"}],
"encoding":{"x":{"field":"x","type":"quantitative","scale":{"domain":[50,4000]},"axis":{"values":[500,1000,1500,2000,2500,3000,3500,4000],"title":"FEs"}},
"y":{"field":"y","type":"quantitative","scale":{"type":"log","domain":[1,100000]},"axis":{"values":[1,10,100,1000,10000,100000],"title":"Best Value","labelExpr":"'10' + substring('⁰¹²³⁴⁵⁶⁷⁸⁹', round(log(datum.value)/LN10), round(log(datum.value)/LN10)+1)"}},
"color":{"field":"s","type":"nominal","title":null,"scale":{"domain":["EBSO","BSO","DE","PSO","GSA","MFO"],"range":["#ff0000","#eeee00","#22ee22","#00ffff","#0000ff","#ff00ff"]},"legend":{"orient":"bottom-left","offset":20}}},
"layer":[{"mark":{"type":"line","strokeWidth":1.3,"clip":true},"encoding":{"strokeDash":{"field":"s","type":"nominal","title":null,"scale":{"domain":["EBSO","BSO","DE","PSO","GSA","MFO"],"range":[[1,0],[2,3],[6,2,1,2],[6,3],[1,0],[2,3]]}}}},
{"mark":{"type":"point","filled":false,"size":45,"strokeWidth":1.3,"clip":true},"encoding":{"shape":{"field":"s","type":"nominal","title":null,"scale":{"domain":["EBSO","BSO","DE","PSO","GSA","MFO"],"range":["circle","M-1,-1L1,1M1,-1L-1,1","M-1,0L1,0M0,-1L0,1","M-1,0L1,0M0,-1L0,1M-0.7,-0.7L0.7,0.7M0.7,-0.7L-0.7,0.7","square","diamond"]}}}}]},
{"title":"F2","width":345,"height":240,"transform":[{"filter":"datum.p=='F2'"}],
"encoding":{"x":{"field":"x","type":"quantitative","scale":{"domain":[50,4000]},"axis":{"values":[500,1000,1500,2000,2500,3000,3500,4000],"title":"FEs"}},
"y":{"field":"y","type":"quantitative","scale":{"type":"log","domain":[1e-5,1e20]},"axis":{"values":[1e-5,1,1e5,1e10,1e15,1e20],"title":"Best Value","labelExpr":"datum.value < 0.5 ? '10⁻⁵' : datum.value < 2 ? '10⁰' : datum.value < 1e6 ? '10⁵' : datum.value < 1e11 ? '10¹⁰' : datum.value < 1e16 ? '10¹⁵' : '10²⁰'"}},
"color":{"field":"s","type":"nominal","title":null,"scale":{"domain":["EBSO","BSO","DE","PSO","GSA","MFO"],"range":["#ff0000","#eeee00","#22ee22","#00ffff","#0000ff","#ff00ff"]},"legend":{"orient":"top-right","offset":8}}},
"layer":[{"mark":{"type":"line","strokeWidth":1.3,"clip":true},"encoding":{"strokeDash":{"field":"s","type":"nominal","title":null,"scale":{"domain":["EBSO","BSO","DE","PSO","GSA","MFO"],"range":[[1,0],[2,3],[6,2,1,2],[6,3],[1,0],[2,3]]}}}},
{"mark":{"type":"point","filled":false,"size":45,"strokeWidth":1.3,"clip":true},"encoding":{"shape":{"field":"s","type":"nominal","title":null,"scale":{"domain":["EBSO","BSO","DE","PSO","GSA","MFO"],"range":["circle","M-1,-1L1,1M1,-1L-1,1","M-1,0L1,0M0,-1L0,1","M-1,0L1,0M0,-1L0,1M-0.7,-0.7L0.7,0.7M0.7,-0.7L-0.7,0.7","square","diamond"]}}}}]},
{"title":"F5","width":345,"height":240,"transform":[{"filter":"datum.p=='F5'"}],
"encoding":{"x":{"field":"x","type":"quantitative","scale":{"domain":[50,4000]},"axis":{"values":[500,1000,1500,2000,2500,3000,3500,4000],"title":"FEs"}},
"y":{"field":"y","type":"quantitative","scale":{"type":"log","domain":[100,1e10]},"axis":{"values":[100,1e4,1e6,1e8,1e10],"title":"Best Value","labelExpr":"datum.value < 1e3 ? '10²' : datum.value < 1e5 ? '10⁴' : datum.value < 1e7 ? '10⁶' : datum.value < 1e9 ? '10⁸' : '10¹⁰'"}},
"color":{"field":"s","type":"nominal","title":null,"scale":{"domain":["EBSO","BSO","DE","PSO","GSA","MFO"],"range":["#ff0000","#eeee00","#22ee22","#00ffff","#0000ff","#ff00ff"]},"legend":{"orient":"bottom-left","offset":20}}},
"layer":[{"mark":{"type":"line","strokeWidth":1.3,"clip":true},"encoding":{"strokeDash":{"field":"s","type":"nominal","title":null,"scale":{"domain":["EBSO","BSO","DE","PSO","GSA","MFO"],"range":[[1,0],[2,3],[6,2,1,2],[6,3],[1,0],[2,3]]}}}},
{"mark":{"type":"point","filled":false,"size":45,"strokeWidth":1.3,"clip":true},"encoding":{"shape":{"field":"s","type":"nominal","title":null,"scale":{"domain":["EBSO","BSO","DE","PSO","GSA","MFO"],"range":["circle","M-1,-1L1,1M1,-1L-1,1","M-1,0L1,0M0,-1L0,1","M-1,0L1,0M0,-1L0,1M-0.7,-0.7L0.7,0.7M0.7,-0.7L-0.7,0.7","square","diamond"]}}}}]},
{"title":"F6","width":345,"height":240,"transform":[{"filter":"datum.p=='F6'"}],
"encoding":{"x":{"field":"x","type":"quantitative","scale":{"domain":[50,4000]},"axis":{"values":[500,1000,1500,2000,2500,3000,3500,4000],"title":"FEs"}},
"y":{"field":"y","type":"quantitative","scale":{"type":"log","domain":[1,1e6]},"axis":{"values":[1,10,100,1000,10000,100000,1000000],"title":"Best Value","labelExpr":"'10' + substring('⁰¹²³⁴⁵⁶⁷⁸⁹', round(log(datum.value)/LN10), round(log(datum.value)/LN10)+1)"}},
"color":{"field":"s","type":"nominal","title":null,"scale":{"domain":["EBSO","BSO","DE","PSO","GSA","MFO"],"range":["#ff0000","#eeee00","#22ee22","#00ffff","#0000ff","#ff00ff"]},"legend":{"orient":"bottom-left","offset":20}}},
"layer":[{"mark":{"type":"line","strokeWidth":1.3,"clip":true},"encoding":{"strokeDash":{"field":"s","type":"nominal","title":null,"scale":{"domain":["EBSO","BSO","DE","PSO","GSA","MFO"],"range":[[1,0],[2,3],[6,2,1,2],[6,3],[1,0],[2,3]]}}}},
{"mark":{"type":"point","filled":false,"size":45,"strokeWidth":1.3,"clip":true},"encoding":{"shape":{"field":"s","type":"nominal","title":null,"scale":{"domain":["EBSO","BSO","DE","PSO","GSA","MFO"],"range":["circle","M-1,-1L1,1M1,-1L-1,1","M-1,0L1,0M0,-1L0,1","M-1,0L1,0M0,-1L0,1M-0.7,-0.7L0.7,0.7M0.7,-0.7L-0.7,0.7","square","diamond"]}}}}]},
{"title":"F7","width":345,"height":240,"transform":[{"filter":"datum.p=='F7'"}],
"encoding":{"x":{"field":"x","type":"quantitative","scale":{"domain":[50,4000]},"axis":{"values":[500,1000,1500,2000,2500,3000,3500,4000],"title":"FEs"}},
"y":{"field":"y","type":"quantitative","scale":{"type":"log","domain":[0.1,290]},"axis":{"values":[0.1,1,10,100],"title":"Best Value","labelExpr":"datum.value < 0.5 ? '10⁻¹' : datum.value < 5 ? '10⁰' : datum.value < 50 ? '10¹' : '10²'"}},
"color":{"field":"s","type":"nominal","title":null,"scale":{"domain":["EBSO","BSO","DE","PSO","GSA","MFO"],"range":["#ff0000","#eeee00","#22ee22","#00ffff","#0000ff","#ff00ff"]},"legend":{"orient":"bottom-left","offset":6}}},
"layer":[{"mark":{"type":"line","strokeWidth":1.3,"clip":true},"encoding":{"strokeDash":{"field":"s","type":"nominal","title":null,"scale":{"domain":["EBSO","BSO","DE","PSO","GSA","MFO"],"range":[[1,0],[2,3],[6,2,1,2],[6,3],[1,0],[2,3]]}}}},
{"mark":{"type":"point","filled":false,"size":45,"strokeWidth":1.3,"clip":true},"encoding":{"shape":{"field":"s","type":"nominal","title":null,"scale":{"domain":["EBSO","BSO","DE","PSO","GSA","MFO"],"range":["circle","M-1,-1L1,1M1,-1L-1,1","M-1,0L1,0M0,-1L0,1","M-1,0L1,0M0,-1L0,1M-0.7,-0.7L0.7,0.7M0.7,-0.7L-0.7,0.7","square","diamond"]}}}}]},
{"title":"F9","width":345,"height":240,"transform":[{"filter":"datum.p=='F9'"}],
"encoding":{"x":{"field":"x","type":"quantitative","scale":{"domain":[50,4000]},"axis":{"values":[500,1000,1500,2000,2500,3000,3500,4000],"title":"FEs"}},
"y":{"field":"y","type":"quantitative","scale":{"domain":[100,640],"nice":false},"axis":{"values":[100,150,200,250,300,350,400,450,500,550,600],"title":"Best Value"}},
"color":{"field":"s","type":"nominal","title":null,"scale":{"domain":["EBSO","BSO","DE","PSO","GSA","MFO"],"range":["#ff0000","#eeee00","#22ee22","#00ffff","#0000ff","#ff00ff"]},"legend":{"orient":"bottom-left","offset":6}}},
"layer":[{"mark":{"type":"line","strokeWidth":1.3,"clip":true},"encoding":{"strokeDash":{"field":"s","type":"nominal","title":null,"scale":{"domain":["EBSO","BSO","DE","PSO","GSA","MFO"],"range":[[1,0],[2,3],[6,2,1,2],[6,3],[1,0],[2,3]]}}}},
{"mark":{"type":"point","filled":false,"size":45,"strokeWidth":1.3,"clip":true},"encoding":{"shape":{"field":"s","type":"nominal","title":null,"scale":{"domain":["EBSO","BSO","DE","PSO","GSA","MFO"],"range":["circle","M-1,-1L1,1M1,-1L-1,1","M-1,0L1,0M0,-1L0,1","M-1,0L1,0M0,-1L0,1M-0.7,-0.7L0.7,0.7M0.7,-0.7L-0.7,0.7","square","diamond"]}}}}]},
{"title":"F10","width":345,"height":240,"transform":[{"filter":"datum.p=='F10'"}],
"encoding":{"x":{"field":"x","type":"quantitative","scale":{"domain":[50,4000]},"axis":{"values":[500,1000,1500,2000,2500,3000,3500,4000],"title":"FEs"}},
"y":{"field":"y","type":"quantitative","scale":{"domain":[0,21],"nice":false},"axis":{"values":[0,2,4,6,8,10,12,14,16,18,20],"title":"Best Value"}},
"color":{"field":"s","type":"nominal","title":null,"scale":{"domain":["EBSO","BSO","DE","PSO","GSA","MFO"],"range":["#ff0000","#eeee00","#22ee22","#00ffff","#0000ff","#ff00ff"]},"legend":{"orient":"bottom-left","offset":6}}},
"layer":[{"mark":{"type":"line","strokeWidth":1.3,"clip":true},"encoding":{"strokeDash":{"field":"s","type":"nominal","title":null,"scale":{"domain":["EBSO","BSO","DE","PSO","GSA","MFO"],"range":[[1,0],[2,3],[6,2,1,2],[6,3],[1,0],[2,3]]}}}},
{"mark":{"type":"point","filled":false,"size":45,"strokeWidth":1.3,"clip":true},"encoding":{"shape":{"field":"s","type":"nominal","title":null,"scale":{"domain":["EBSO","BSO","DE","PSO","GSA","MFO"],"range":["circle","M-1,-1L1,1M1,-1L-1,1","M-1,0L1,0M0,-1L0,1","M-1,0L1,0M0,-1L0,1M-0.7,-0.7L0.7,0.7M0.7,-0.7L-0.7,0.7","square","diamond"]}}}}]},
{"title":"F11","width":345,"height":240,"transform":[{"filter":"datum.p=='F11'"}],
"encoding":{"x":{"field":"x","type":"quantitative","scale":{"domain":[50,4000]},"axis":{"values":[500,1000,1500,2000,2500,3000,3500,4000],"title":"FEs"}},
"y":{"field":"y","type":"quantitative","scale":{"type":"log","domain":[0.1,1000]},"axis":{"values":[0.1,1,10,100],"title":"Best Value","labelExpr":"datum.value < 0.5 ? '10⁻¹' : datum.value < 5 ? '10⁰' : datum.value < 50 ? '10¹' : '10²'"}},
"color":{"field":"s","type":"nominal","title":null,"scale":{"domain":["EBSO","BSO","DE","PSO","GSA","MFO"],"range":["#ff0000","#eeee00","#22ee22","#00ffff","#0000ff","#ff00ff"]},"legend":{"orient":"bottom-left","offset":30}}},
"layer":[{"mark":{"type":"line","strokeWidth":1.3,"clip":true},"encoding":{"strokeDash":{"field":"s","type":"nominal","title":null,"scale":{"domain":["EBSO","BSO","DE","PSO","GSA","MFO"],"range":[[1,0],[2,3],[6,2,1,2],[6,3],[1,0],[2,3]]}}}},
{"mark":{"type":"point","filled":false,"size":45,"strokeWidth":1.3,"clip":true},"encoding":{"shape":{"field":"s","type":"nominal","title":null,"scale":{"domain":["EBSO","BSO","DE","PSO","GSA","MFO"],"range":["circle","M-1,-1L1,1M1,-1L-1,1","M-1,0L1,0M0,-1L0,1","M-1,0L1,0M0,-1L0,1M-0.7,-0.7L0.7,0.7M0.7,-0.7L-0.7,0.7","square","diamond"]}}}}]},
{"title":"F13","width":345,"height":240,"transform":[{"filter":"datum.p=='F13'"}],
"encoding":{"x":{"field":"x","type":"quantitative","scale":{"domain":[50,4000]},"axis":{"values":[500,1000,1500,2000,2500,3000,3500,4000],"title":"FEs"}},
"y":{"field":"y","type":"quantitative","scale":{"type":"log","domain":[25,1.6e9]},"axis":{"values":[100,1e4,1e6,1e8],"title":"Best Value","labelExpr":"datum.value < 1e3 ? '10²' : datum.value < 1e5 ? '10⁴' : datum.value < 1e7 ? '10⁶' : '10⁸'"}},
"color":{"field":"s","type":"nominal","title":null,"scale":{"domain":["EBSO","BSO","DE","PSO","GSA","MFO"],"range":["#ff0000","#eeee00","#22ee22","#00ffff","#0000ff","#ff00ff"]},"legend":{"orient":"bottom-left","offset":20}}},
"layer":[{"mark":{"type":"line","strokeWidth":1.3,"clip":true},"encoding":{"strokeDash":{"field":"s","type":"nominal","title":null,"scale":{"domain":["EBSO","BSO","DE","PSO","GSA","MFO"],"range":[[1,0],[2,3],[6,2,1,2],[6,3],[1,0],[2,3]]}}}},
{"mark":{"type":"point","filled":false,"size":45,"strokeWidth":1.3,"clip":true},"encoding":{"shape":{"field":"s","type":"nominal","title":null,"scale":{"domain":["EBSO","BSO","DE","PSO","GSA","MFO"],"range":["circle","M-1,-1L1,1M1,-1L-1,1","M-1,0L1,0M0,-1L0,1","M-1,0L1,0M0,-1L0,1M-0.7,-0.7L0.7,0.7M0.7,-0.7L-0.7,0.7","square","diamond"]}}}}]},
{"title":"F14","width":345,"height":240,"transform":[{"filter":"datum.p=='F14'"}],
"encoding":{"x":{"field":"x","type":"quantitative","scale":{"domain":[50,4000]},"axis":{"values":[500,1000,1500,2000,2500,3000,3500,4000],"title":"FEs"}},
"y":{"field":"y","type":"quantitative","scale":{"type":"log","domain":[1,265]},"axis":{"values":[1,10,100],"title":"Best Value","labelExpr":"datum.value < 5 ? '10⁰' : datum.value < 50 ? '10¹' : '10²'"}},
"color":{"field":"s","type":"nominal","title":null,"scale":{"domain":["EBSO","BSO","DE","PSO","GSA","MFO"],"range":["#ff0000","#eeee00","#22ee22","#00ffff","#0000ff","#ff00ff"]},"legend":{"orient":"top-right","offset":8}}},
"layer":[{"mark":{"type":"line","strokeWidth":1.3,"clip":true},"encoding":{"strokeDash":{"field":"s","type":"nominal","title":null,"scale":{"domain":["EBSO","BSO","DE","PSO","GSA","MFO"],"range":[[1,0],[2,3],[6,2,1,2],[6,3],[1,0],[2,3]]}}}},
{"mark":{"type":"point","filled":false,"size":45,"strokeWidth":1.3,"clip":true},"encoding":{"shape":{"field":"s","type":"nominal","title":null,"scale":{"domain":["EBSO","BSO","DE","PSO","GSA","MFO"],"range":["circle","M-1,-1L1,1M1,-1L-1,1","M-1,0L1,0M0,-1L0,1","M-1,0L1,0M0,-1L0,1M-0.7,-0.7L0.7,0.7M0.7,-0.7L-0.7,0.7","square","diamond"]}}}}]},
{"title":"F21","width":345,"height":240,"transform":[{"filter":"datum.p=='F21'"}],
"encoding":{"x":{"field":"x","type":"quantitative","scale":{"domain":[50,4000]},"axis":{"values":[500,1000,1500,2000,2500,3000,3500,4000],"title":"FEs"}},
"y":{"field":"y","type":"quantitative","scale":{"type":"log","domain":[0.28,10.5],"reverse":true},"axis":{"values":[1],"title":"Best Value","labelExpr":"'-10⁰'"}},
"color":{"field":"s","type":"nominal","title":null,"scale":{"domain":["EBSO","BSO","DE","PSO","GSA","MFO"],"range":["#ff0000","#eeee00","#22ee22","#00ffff","#0000ff","#ff00ff"]},"legend":{"orient":"top-right","offset":8}}},
"layer":[{"mark":{"type":"line","strokeWidth":1.3,"clip":true},"encoding":{"strokeDash":{"field":"s","type":"nominal","title":null,"scale":{"domain":["EBSO","BSO","DE","PSO","GSA","MFO"],"range":[[1,0],[2,3],[6,2,1,2],[6,3],[1,0],[2,3]]}}}},
{"mark":{"type":"point","filled":false,"size":45,"strokeWidth":1.3,"clip":true},"encoding":{"shape":{"field":"s","type":"nominal","title":null,"scale":{"domain":["EBSO","BSO","DE","PSO","GSA","MFO"],"range":["circle","M-1,-1L1,1M1,-1L-1,1","M-1,0L1,0M0,-1L0,1","M-1,0L1,0M0,-1L0,1M-0.7,-0.7L0.7,0.7M0.7,-0.7L-0.7,0.7","square","diamond"]}}}}]},
{"title":"F23","width":345,"height":240,"transform":[{"filter":"datum.p=='F23'"}],
"encoding":{"x":{"field":"x","type":"quantitative","scale":{"domain":[50,4000]},"axis":{"values":[500,1000,1500,2000,2500,3000,3500,4000],"title":"FEs"}},
"y":{"field":"y","type":"quantitative","scale":{"domain":[-12,0],"nice":false},"axis":{"values":[-12,-10,-8,-6,-4,-2,0],"title":"Best Value"}},
"color":{"field":"s","type":"nominal","title":null,"scale":{"domain":["EBSO","BSO","DE","PSO","GSA","MFO"],"range":["#ff0000","#eeee00","#22ee22","#00ffff","#0000ff","#ff00ff"]},"legend":{"orient":"top-right","offset":8}}},
"layer":[{"mark":{"type":"line","strokeWidth":1.3,"clip":true},"encoding":{"strokeDash":{"field":"s","type":"nominal","title":null,"scale":{"domain":["EBSO","BSO","DE","PSO","GSA","MFO"],"range":[[1,0],[2,3],[6,2,1,2],[6,3],[1,0],[2,3]]}}}},
{"mark":{"type":"point","filled":false,"size":45,"strokeWidth":1.3,"clip":true},"encoding":{"shape":{"field":"s","type":"nominal","title":null,"scale":{"domain":["EBSO","BSO","DE","PSO","GSA","MFO"],"range":["circle","M-1,-1L1,1M1,-1L-1,1","M-1,0L1,0M0,-1L0,1","M-1,0L1,0M0,-1L0,1M-0.7,-0.7L0.7,0.7M0.7,-0.7L-0.7,0.7","square","diamond"]}}}}]}
]}
